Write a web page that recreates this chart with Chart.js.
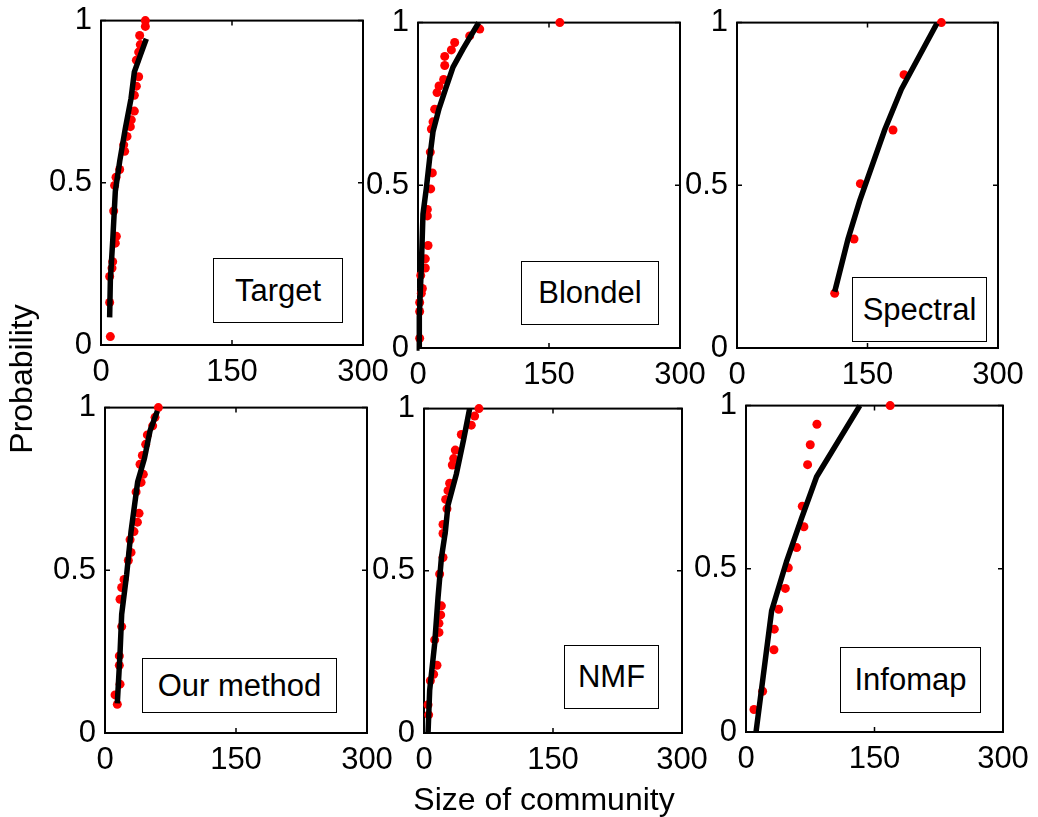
<!DOCTYPE html>
<html>
<head>
<meta charset="utf-8">
<script src="https://cdn.jsdelivr.net/npm/chart.js@4.4.1/dist/chart.umd.min.js"></script>
<style>
  body { margin: 0; background: #fff; font-family: "Liberation Sans", Arial, sans-serif; }
  #fig { position: relative; width: 1038px; height: 817px; overflow: hidden; background: #fff; }
  canvas { position: absolute; }
  .tag { position: absolute; border: 1px solid #000; background: #fff; box-sizing: border-box;
         display: flex; align-items: center; justify-content: center; font-size: 31px; color: #000; z-index: 2; }
  .title { position: absolute; font-size: 32px; line-height: 40px; height: 40px; width: 400px;
           text-align: center; white-space: nowrap; color: #000; z-index: 2; }
</style>
</head>
<body>
<div id="fig"></div>
<script>
const FONT = '"Liberation Sans", Arial, sans-serif';

const xTicks = [0, 150, 300];
const yTicks = [0, 0.5, 1];
const xTitle = 'Size of community';
const yTitle = 'Probability';

// Target
const targetSize = [10.7, 9.9, 9.9, 12.6, 13.4, 16.4, 17.6, 14.5, 15.6, 17.2, 21.4, 27.1, 26, 29.8, 33.6, 34.7, 38.2, 38.2, 40.5, 43.1, 40.5, 43.1, 45, 44.3, 50.8, 50.8];
const targetProb = [0.026, 0.131, 0.211, 0.237, 0.257, 0.314, 0.335, 0.413, 0.492, 0.517, 0.541, 0.597, 0.617, 0.643, 0.673, 0.694, 0.721, 0.770, 0.798, 0.827, 0.878, 0.903, 0.926, 0.954, 0.982, 1.0];
const targetFitSize = [9.9, 10.7, 13.4, 16.4, 21.4, 27.9, 34.4, 38.2, 45, 51.9];
const targetFitProb = [0.085, 0.199, 0.321, 0.474, 0.566, 0.668, 0.760, 0.842, 0.893, 0.944];

// Blondel
const blondelSize = [1.9, 1.9, 1.9, 3.8, 5, 3.1, 8.4, 8.4, 11.5, 10.7, 10.7, 14.5, 16.4, 14.1, 15.3, 17.2, 19.1, 21.8, 24.1, 29.4, 30.6, 30.6, 38.2, 42, 59.2, 70.7, 162.4];
const blondelProb = [0.030, 0.112, 0.140, 0.168, 0.183, 0.223, 0.246, 0.274, 0.315, 0.406, 0.426, 0.489, 0.538, 0.602, 0.673, 0.695, 0.734, 0.785, 0.805, 0.825, 0.868, 0.896, 0.916, 0.939, 0.959, 0.980, 1.0];
const blondelFitSize = [1.8, 1.5, 3.8, 5.7, 9.6, 13.4, 17.2, 24.1, 31.7, 40.1, 51.6, 69.5];
const blondelFitProb = [0, 0.096, 0.249, 0.411, 0.492, 0.584, 0.665, 0.736, 0.797, 0.863, 0.919, 1.0];

// Spectral
const spectralSize = [112.3, 134.5, 141.8, 179.3, 192, 234.9];
const spectralProb = [0.168, 0.335, 0.505, 0.670, 0.840, 1.0];
const spectralFitSize = [112.3, 127.6, 141, 169.7, 188.9, 229.9];
const spectralFitProb = [0.173, 0.335, 0.452, 0.670, 0.795, 0.998];

// Our method
const oursSize = [14.1, 11.5, 17.2, 16.4, 16.4, 19.1, 17.2, 19.1, 21.8, 26.7, 29.8, 28.7, 33.2, 37.1, 39, 35.6, 41.3, 43.9, 40.1, 42.8, 46.6, 48.5, 54.6, 57.3, 61.1];
const oursProb = [0.088, 0.117, 0.150, 0.208, 0.237, 0.327, 0.411, 0.447, 0.472, 0.530, 0.555, 0.594, 0.619, 0.648, 0.675, 0.741, 0.770, 0.795, 0.826, 0.853, 0.887, 0.916, 0.944, 0.970, 1.0];
const oursFitSize = [14.1, 17.2, 19.1, 24.8, 29.8, 37.4, 45.1, 51.6, 60];
const oursFitProb = [0.091, 0.244, 0.365, 0.487, 0.619, 0.772, 0.843, 0.929, 0.99];

// NMF
const nmfSize = [5.4, 4.7, 7.4, 11.2, 15.1, 12.4, 17.4, 17.4, 19.4, 20.2, 18.2, 22.1, 22.1, 22.1, 26.7, 25.2, 27.9, 29.8, 32.9, 34.5, 36.4, 43.4, 55, 58.9, 63.9];
const nmfProb = [0.056, 0.087, 0.161, 0.181, 0.209, 0.287, 0.310, 0.338, 0.364, 0.392, 0.490, 0.541, 0.615, 0.643, 0.691, 0.720, 0.747, 0.770, 0.826, 0.846, 0.872, 0.920, 0.949, 0.977, 1.0];
const nmfFitSize = [4.7, 6.6, 12.4, 16.3, 20.2, 24.8, 27.9, 37.6, 46.1, 53.1];
const nmfFitProb = [0, 0.132, 0.275, 0.417, 0.539, 0.620, 0.702, 0.798, 0.905, 1.0];

// Infomap
const infomapSize = [9.3, 19.4, 32.6, 33, 38.1, 45.9, 49.4, 59.1, 67.6, 65.7, 71.9, 75, 82.8, 168.3];
const infomapProb = [0.069, 0.125, 0.252, 0.315, 0.376, 0.440, 0.503, 0.565, 0.629, 0.692, 0.819, 0.880, 0.943, 1.0];
const infomapFitSize = [11.7, 29.9, 47.4, 64.9, 82.4, 132.9];
const infomapFitProb = [0, 0.371, 0.523, 0.655, 0.782, 1.0];

// plot boxes [left, top, right, bottom] and label boxes [left, top, width, height]
const panels = [
  { name: 'Target', size: targetSize, prob: targetProb, fitSize: targetFitSize, fitProb: targetFitProb, area: [101, 18, 363, 345], tag: [213, 258, 130, 65] },
  { name: 'Blondel', size: blondelSize, prob: blondelProb, fitSize: blondelFitSize, fitProb: blondelFitProb, area: [418, 20, 680, 348], tag: [521, 261, 138, 64] },
  { name: 'Spectral', size: spectralSize, prob: spectralProb, fitSize: spectralFitSize, fitProb: spectralFitProb, area: [737, 20, 998, 348], tag: [852, 277, 135, 65] },
  { name: 'Our method', size: oursSize, prob: oursProb, fitSize: oursFitSize, fitProb: oursFitProb, area: [105, 405, 367, 733], tag: [142, 658, 195, 55] },
  { name: 'NMF', size: nmfSize, prob: nmfProb, fitSize: nmfFitSize, fitProb: nmfFitProb, area: [424, 406, 682, 733], tag: [564, 645, 95, 64] },
  { name: 'Infomap', size: infomapSize, prob: infomapProb, fitSize: infomapFitSize, fitProb: infomapFitProb, area: [746, 403, 1003, 732], tag: [840, 647, 141, 66] }
];

const PL = 80, PT = 25, PR = 50, PB = 60;

// box round the plot with MATLAB style inward ticks
const framePlugin = {
  id: 'frame',
  beforeDatasetsDraw(chart) {
    const { ctx, chartArea: a, scales } = chart;
    ctx.save();
    ctx.strokeStyle = '#000';
    ctx.lineWidth = 2;
    ctx.strokeRect(a.left, a.top, a.right - a.left, a.bottom - a.top);
    ctx.lineWidth = 1.5;
    ctx.beginPath();
    xTicks.forEach(v => {
      const px = scales.x.getPixelForValue(v);
      ctx.moveTo(px, a.bottom); ctx.lineTo(px, a.bottom - 5);
      ctx.moveTo(px, a.top); ctx.lineTo(px, a.top + 5);
    });
    yTicks.forEach(v => {
      const py = scales.y.getPixelForValue(v);
      ctx.moveTo(a.left, py); ctx.lineTo(a.left + 5, py);
      ctx.moveTo(a.right, py); ctx.lineTo(a.right - 5, py);
    });
    ctx.stroke();
    ctx.restore();
  }
};

const fig = document.getElementById('fig');

panels.forEach(p => {
  const [L, T, R, B] = p.area;
  const cv = document.createElement('canvas');
  cv.width = (R - L) + PL + PR;
  cv.height = (B - T) + PT + PB;
  cv.style.left = (L - PL) + 'px';
  cv.style.top = (T - PT) + 'px';
  fig.appendChild(cv);

  new Chart(cv.getContext('2d'), {
    type: 'scatter',
    data: {
      datasets: [
        {
          label: 'fit',
          data: p.fitSize.map((x, i) => ({ x: x, y: p.fitProb[i] })),
          showLine: true,
          borderColor: '#000',
          borderWidth: 5.5,
          pointRadius: 0,
          tension: 0,
          clip: false
        },
        {
          label: 'data',
          data: p.size.map((x, i) => ({ x: x, y: p.prob[i] })),
          showLine: false,
          pointRadius: 4.5,
          pointBackgroundColor: '#ff0000',
          pointBorderWidth: 0,
          clip: false
        }
      ]
    },
    options: {
      responsive: false,
      animation: false,
      devicePixelRatio: 1,
      layout: { padding: { left: 0, top: PT, right: PR, bottom: 0 } },
      plugins: { legend: { display: false }, tooltip: { enabled: false } },
      scales: {
        x: {
          type: 'linear', min: 0, max: 300,
          afterBuildTicks: s => { s.ticks = xTicks.map(v => ({ value: v })); },
          afterFit: s => { s.height = PB; },
          grid: { display: false, drawTicks: false },
          border: { display: false },
          ticks: { color: '#000', font: { size: 31, family: FONT }, padding: 9, maxRotation: 0, autoSkip: false,
                   callback: v => String(v) }
        },
        y: {
          type: 'linear', min: 0, max: 1,
          afterBuildTicks: s => { s.ticks = yTicks.map(v => ({ value: v })); },
          afterFit: s => { s.width = PL; },
          grid: { display: false, drawTicks: false },
          border: { display: false },
          ticks: { color: '#000', font: { size: 31, family: FONT }, padding: 9, autoSkip: false,
                   callback: v => String(v) }
        }
      }
    },
    plugins: [framePlugin]
  });

  const tag = document.createElement('div');
  tag.className = 'tag';
  const [tl, tt, tw, th] = p.tag;
  tag.style.left = tl + 'px';
  tag.style.top = tt + 'px';
  tag.style.width = tw + 'px';
  tag.style.height = th + 'px';
  tag.textContent = p.name;
  fig.appendChild(tag);
});

const xt = document.createElement('div');
xt.className = 'title';
xt.textContent = xTitle;
xt.style.left = (544 - 200) + 'px';
xt.style.top = '779px';
fig.appendChild(xt);

const yt = document.createElement('div');
yt.className = 'title';
yt.textContent = yTitle;
yt.style.left = (21 - 200) + 'px';
yt.style.top = (379 - 20) + 'px';
yt.style.transform = 'rotate(-90deg)';
fig.appendChild(yt);
</script>
</body>
</html>
